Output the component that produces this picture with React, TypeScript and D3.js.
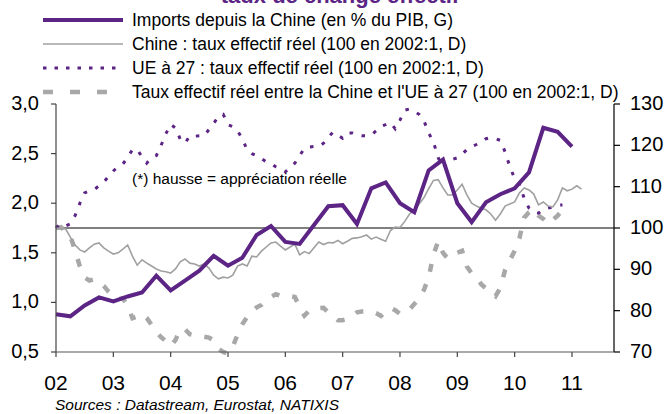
import React from "react";
import * as d3 from "d3";

const W = 669;
const H = 414;

// ---- data ----
const startYear = 2002;
// Imports from China (% of GDP, left axis), quarterly from 2002Q1
const importsPctGdp = [
  0.88, 0.86, 0.97, 1.05, 1.01, 1.06, 1.1, 1.27, 1.12, 1.22, 1.32, 1.47,
  1.37, 1.45, 1.68, 1.77, 1.61, 1.59, 1.78, 1.97, 1.98, 1.79, 2.15, 2.21,
  2.0, 1.91, 2.33, 2.44, 2.0, 1.81, 2.01, 2.09, 2.15, 2.31, 2.76, 2.72, 2.57,
];
// China real effective exchange rate (100 = 2002:1, right axis), monthly
const chinaReer = [
  100, 99.8, 99.8, 97.8, 95.9, 94.7, 94.2, 95.2, 96.1, 96.4, 95.2, 94.4,
  93.7, 94.0, 94.9, 95.9, 93.2, 91.0, 92.3, 91.5, 90.8, 90.1, 89.6, 89.4,
  89.1, 90.1, 91.8, 92.5, 91.5, 91.3, 90.8, 91.3, 90.3, 88.6, 87.7, 88.1,
  87.9, 88.6, 90.8, 91.3, 90.8, 93.2, 93.0, 94.4, 95.4, 96.4, 96.6, 95.6,
  94.7, 95.4, 96.1, 93.5, 94.3, 93.8, 95.2, 96.6, 96.0, 96.5, 96.4, 97.0,
  96.2, 96.8, 97.5, 97.6, 97.9, 98.3, 97.3, 97.8, 97.3, 96.8, 99.4, 100.2,
  100.1, 101.6, 103.4, 104.3, 105.8, 107.3, 109.5, 111.5, 111.7, 109.7, 108.0, 108.0,
  109.2, 110.6, 108.0, 106.0, 105.3, 104.8, 104.4, 103.4, 101.9, 103.4, 105.3, 105.8,
  106.3, 108.5, 109.7, 109.2, 108.2, 105.6, 106.3, 105.3, 105.1, 106.8, 109.7, 109.0,
  109.4, 110.2, 109.4,
];
// EU27 real effective exchange rate, monthly
const euReer = [
  100, 101, 100.5, 101, 103, 106, 108.5, 109, 109.3, 110.2, 111.1, 112.5,
  113.8, 114.8, 115.5, 117, 119, 119, 117.2, 115.7, 117, 117.5, 120, 122.8,
  125.1, 124.2, 121.5, 120.5, 122.3, 122.2, 122.3, 122.3, 123.8, 125.3, 127, 127.5,
  125, 124.5, 123.5, 121.6, 118.9, 118, 117.5, 116.8, 116, 115.6, 114.8, 114.2,
  113.6, 114.5, 115.7, 117.5, 119.3, 119.6, 119.7, 119.7, 120.5, 122, 123.2, 122.5,
  121.7, 123, 123, 122.5, 122.3, 122.3, 122.5, 123.5, 124.6, 125, 125.5, 124,
  126.1, 128.5, 128.8, 128.2, 127.5, 126, 123, 120.8, 117, 114.6, 115.6, 116.6,
  117, 117.8, 119, 119.7, 120.2, 120.8, 121.6, 121.9, 121.6, 121.2, 118.4, 114.8,
  112, 110.6, 107.2, 104.8, 103.8, 103.6, 104.5, 104.8, 105.1, 105.4, 105.6,
];
// Real effective rate China vs EU27, monthly
const chinaEuReer = [
  100, 100.2, 99.3, 98, 94.5, 90.7, 88, 87.3, 87.6, 86.7, 86, 84.6,
  83.5, 82.8, 83, 81.2, 78.2, 78.6, 79.2, 78.2, 76.6, 74.8, 73.6, 72.6,
  71.4, 72.9, 75.6, 75.5, 74.3, 74.0, 73.9, 73.7, 73.5, 72.8, 70.8, 70.0,
  69.6, 71.3, 74.2, 76.7, 78.5, 79.9, 80.8, 81.4, 82.5, 83.3, 84.0, 83.6,
  83.4, 83.5, 83.3, 80.8, 78.8, 80.0, 80.3, 80.6, 80.7, 79.6, 78.6, 77.7,
  77.7, 78.0, 78.7, 79.6, 79.8, 79.9, 79.8, 79.4, 78.7, 79.8, 80.7, 80.1,
  79.2, 79.5, 80.3, 81.6, 82.9, 85.0, 88.0, 93.5, 96.8, 94.0, 92.6, 93.3,
  94.0, 94.5, 90.7, 89.0, 88.2, 86.4, 85.4, 84.4, 83.5, 85.5, 89.8, 92.2,
  94.5, 97.5, 102.5, 103.8, 104.6, 103.0, 102.2, 101.0, 102.0, 103.0, 104.4, 103.6,
];

const yearTicks = [2002, 2003, 2004, 2005, 2006, 2007, 2008, 2009, 2010, 2011];
const yearLabels = ["02", "03", "04", "05", "06", "07", "08", "09", "10", "11"];
const leftTicks = [0.5, 1.0, 1.5, 2.0, 2.5, 3.0];
const leftLabels = ["0,5", "1,0", "1,5", "2,0", "2,5", "3,0"];
const rightTicks = [70, 80, 90, 100, 110, 120, 130];
const rightLabels = ["70", "80", "90", "100", "110", "120", "130"];
const legendLabels = [
  "Imports depuis la Chine (en % du PIB, G)",
  "Chine : taux effectif réel (100 en 2002:1, D)",
  "UE à 27 : taux effectif réel (100 en 2002:1, D)",
  "Taux effectif réel entre la Chine et l'UE à 27 (100 en 2002:1, D)",
];
const titleText = "taux de change effectif";
const noteText = "(*) hausse = appréciation réelle";
const sourceText = "Sources : Datastream, Eurostat, NATIXIS";

const PURPLE = "#5b2485";
const GRAY_THIN = "#a0a0a0";
const GRAY_DASH = "#a8a8a8";
const FONT = "Arial, 'Liberation Sans', Helvetica, sans-serif";

export default function App() {
  const left = 56, right = 614, top = 104, bottom = 352;
  const x = d3.scaleLinear().domain([startYear, 2011.733]).range([left, right]);
  const yL = d3.scaleLinear().domain([0.5, 3]).range([bottom, top]);
  const yR = d3.scaleLinear().domain([70, 130]).range([bottom, top]);

  const lineQ = d3
    .line<number>()
    .x((_, i) => x(startYear + i / 4))
    .y((d) => yL(d));
  const lineM = d3
    .line<number>()
    .x((_, i) => x(startYear + i / 12))
    .y((d) => yR(d));

  const legendStyles = [
    { stroke: PURPLE, width: 4, dash: undefined as string | undefined },
    { stroke: GRAY_THIN, width: 1.6, dash: undefined },
    { stroke: PURPLE, width: 3, dash: "3.5,8" },
    { stroke: GRAY_DASH, width: 4.5, dash: "10,17" },
  ];

  return (
    <svg
      width={W}
      height={H}
      style={{ position: "absolute", left: 0, top: 0, background: "#fff" }}
      fontFamily={FONT}
    >
      <rect x={0} y={0} width={W} height={H} fill="#fff" />
      {/* title (cut at top) */}
      <text x={340} y={3} textAnchor="middle" fontSize={22} fontWeight="bold" fill={PURPLE}>
        {titleText}
      </text>

      {/* legend */}
      {legendLabels.map((lab, i) => {
        const cy = 20 + i * 24;
        const s = legendStyles[i];
        return (
          <g key={lab}>
            <line
              x1={43}
              x2={123}
              y1={cy}
              y2={cy}
              stroke={s.stroke}
              strokeWidth={s.width}
              strokeDasharray={s.dash}
            />
            <text x={132} y={cy + 6} fontSize={17.5} fill="#000">
              {lab}
            </text>
          </g>
        );
      })}

      {/* 100 reference line */}
      <line x1={left} x2={right} y1={yR(100)} y2={yR(100)} stroke="#000" strokeWidth={1} />

      {/* series */}
      <path
        d={lineM(chinaEuReer) || ""}
        fill="none"
        stroke={GRAY_DASH}
        strokeWidth={4.5}
        strokeDasharray="8,13"
      />
      <path
        d={lineM(euReer) || ""}
        fill="none"
        stroke={PURPLE}
        strokeWidth={3}
        strokeDasharray="3.5,9"
      />
      <path d={lineM(chinaReer) || ""} fill="none" stroke={GRAY_THIN} strokeWidth={1.6} />
      <path
        d={lineQ(importsPctGdp) || ""}
        fill="none"
        stroke={PURPLE}
        strokeWidth={4}
        strokeLinejoin="miter"
      />

      {/* annotation */}
      <text x={132} y={184} fontSize={15.5} fill="#000">
        {noteText}
      </text>

      {/* axes */}
      <line x1={left} x2={left} y1={top} y2={bottom} stroke="#444" strokeWidth={1.2} />
      <line x1={right} x2={right} y1={top} y2={bottom} stroke="#000" strokeWidth={1.2} />
      <line x1={left} x2={right} y1={bottom} y2={bottom} stroke="#555" strokeWidth={1.2} />

      {leftTicks.map((t, i) => (
        <g key={"l" + t}>
          <line x1={left - 5} x2={left} y1={yL(t)} y2={yL(t)} stroke="#444" strokeWidth={1.2} />
          <text x={39} y={yL(t) + 6} textAnchor="end" fontSize={20} fill="#000">
            {leftLabels[i]}
          </text>
        </g>
      ))}
      {rightTicks.map((t, i) => (
        <g key={"r" + t}>
          <line x1={right} x2={right + 6} y1={yR(t)} y2={yR(t)} stroke="#000" strokeWidth={1.2} />
          <text x={630} y={yR(t) + 6} textAnchor="start" fontSize={20} fill="#000">
            {rightLabels[i]}
          </text>
        </g>
      ))}
      {yearTicks.map((t, i) => (
        <g key={"x" + t}>
          <line x1={x(t)} x2={x(t)} y1={bottom} y2={bottom + 5} stroke="#444" strokeWidth={1.2} />
          <text x={x(t)} y={390} textAnchor="middle" fontSize={21} fill="#000">
            {yearLabels[i]}
          </text>
        </g>
      ))}

      {/* source */}
      <text x={55} y={410} fontSize={15.5} fontStyle="italic" fill="#000">
        {sourceText}
      </text>
    </svg>
  );
}
